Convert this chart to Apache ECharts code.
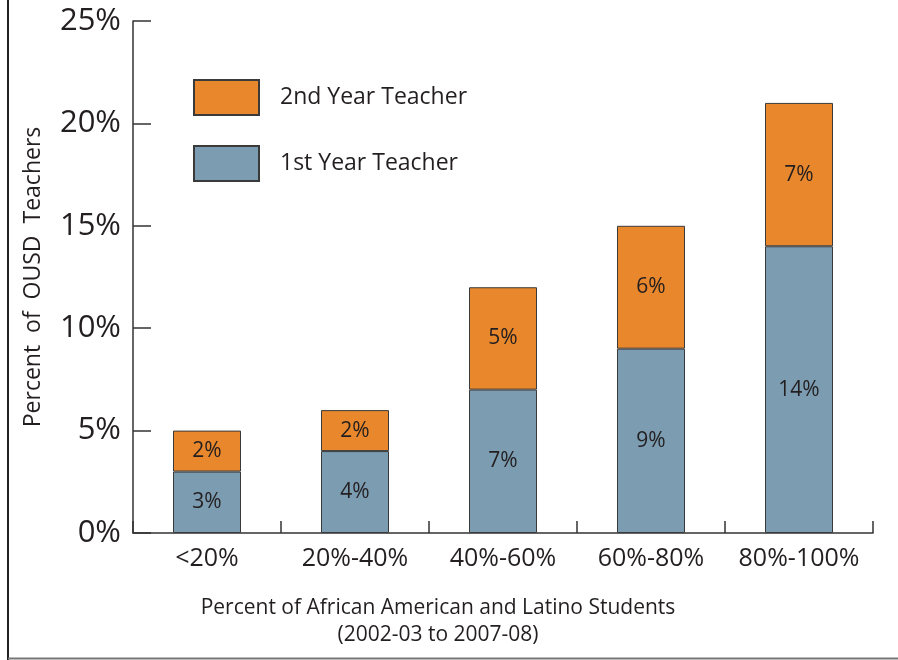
<!DOCTYPE html>
<html>
<head>
<meta charset="utf-8">
<script src="https://cdn.jsdelivr.net/npm/echarts@6/dist/echarts.min.js"></script>
<style>
  html, body { margin: 0; padding: 0; background: #fff; }
  #chart { width: 898px; height: 660px; }
</style>
</head>
<body>
<div id="chart"></div>
<script>
// Share of new OUSD teachers by school demographic band
const categories = ['<20%', '20%-40%', '40%-60%', '60%-80%', '80%-100%'];
const firstYear = [3, 4, 7, 9, 14];
const secondYear = [2, 2, 5, 6, 7];
const yTicks = [0, 5, 10, 15, 20, 25];

const FONT = '"Open Sans", sans-serif';
const TEXT = '#231f20';

const chart = echarts.init(document.getElementById('chart'), null, { renderer: 'canvas' });

const barLabel = {
  show: true,
  position: 'inside',
  formatter: '{c}%',
  color: TEXT,
  fontFamily: FONT,
  fontSize: 21
};

chart.setOption({
  animation: false,
  backgroundColor: '#fff',
  grid: { left: 133, right: 25, top: 21, bottom: 127, containLabel: false },
  legend: {
    orient: 'vertical',
    left: 193,
    top: 79,
    padding: 0,
    itemWidth: 65,
    itemHeight: 35,
    itemGap: 29,
    icon: 'rect',
    data: ['2nd Year Teacher', '1st Year Teacher'],
    textStyle: { color: TEXT, fontFamily: FONT, fontSize: 23, padding: [0, 0, 0, 16] },
    selectedMode: false
  },
  xAxis: {
    type: 'category',
    data: categories,
    axisLine: { lineStyle: { color: '#333', width: 1.5 } },
    axisTick: { show: true, inside: true, interval: 0, length: 12, alignWithLabel: false, lineStyle: { color: '#333', width: 1.5 } },
    axisLabel: { interval: 0, color: TEXT, fontFamily: FONT, fontSize: 25, margin: 13 },
    name: 'Percent of African American and Latino Students\n(2002-03 to 2007-08)',
    nameLocation: 'middle',
    nameGap: 62,
    nameTextStyle: { color: TEXT, fontFamily: FONT, fontSize: 21, lineHeight: 27, padding: [0, 130, 0, 0] }
  },
  yAxis: {
    type: 'value',
    min: yTicks[0],
    max: yTicks[yTicks.length - 1],
    interval: 5,
    splitLine: { show: false },
    axisLine: { show: true, lineStyle: { color: '#333', width: 1.5 } },
    axisTick: { show: true, inside: true, length: 18, lineStyle: { color: '#333', width: 1.5 } },
    axisLabel: { color: TEXT, fontFamily: FONT, fontSize: 31, margin: 12, padding: [4, 0, 0, 0], formatter: v => v + '%' },
    name: 'Percent  of  OUSD  Teachers',
    nameLocation: 'middle',
    nameGap: 88,
    nameTextStyle: { color: TEXT, fontFamily: FONT, fontSize: 23 }
  },
  series: [
    {
      name: '1st Year Teacher',
      type: 'bar',
      stack: 'total',
      barWidth: 68,
      data: firstYear,
      itemStyle: { color: '#7b9cb1', borderColor: '#3a3a3a', borderWidth: 1 },
      label: barLabel
    },
    {
      name: '2nd Year Teacher',
      type: 'bar',
      stack: 'total',
      barWidth: 68,
      data: secondYear,
      itemStyle: { color: '#e8872b', borderColor: '#3a3a3a', borderWidth: 1 },
      label: barLabel
    }
  ],
  graphic: [
    { type: 'line', shape: { x1: 8, y1: 0, x2: 8, y2: 660 }, style: { stroke: '#222', lineWidth: 2 } },
    { type: 'line', shape: { x1: 8, y1: 658.5, x2: 898, y2: 658.5 }, style: { stroke: '#777', lineWidth: 2 } }
  ]
});
</script>
</body>
</html>
